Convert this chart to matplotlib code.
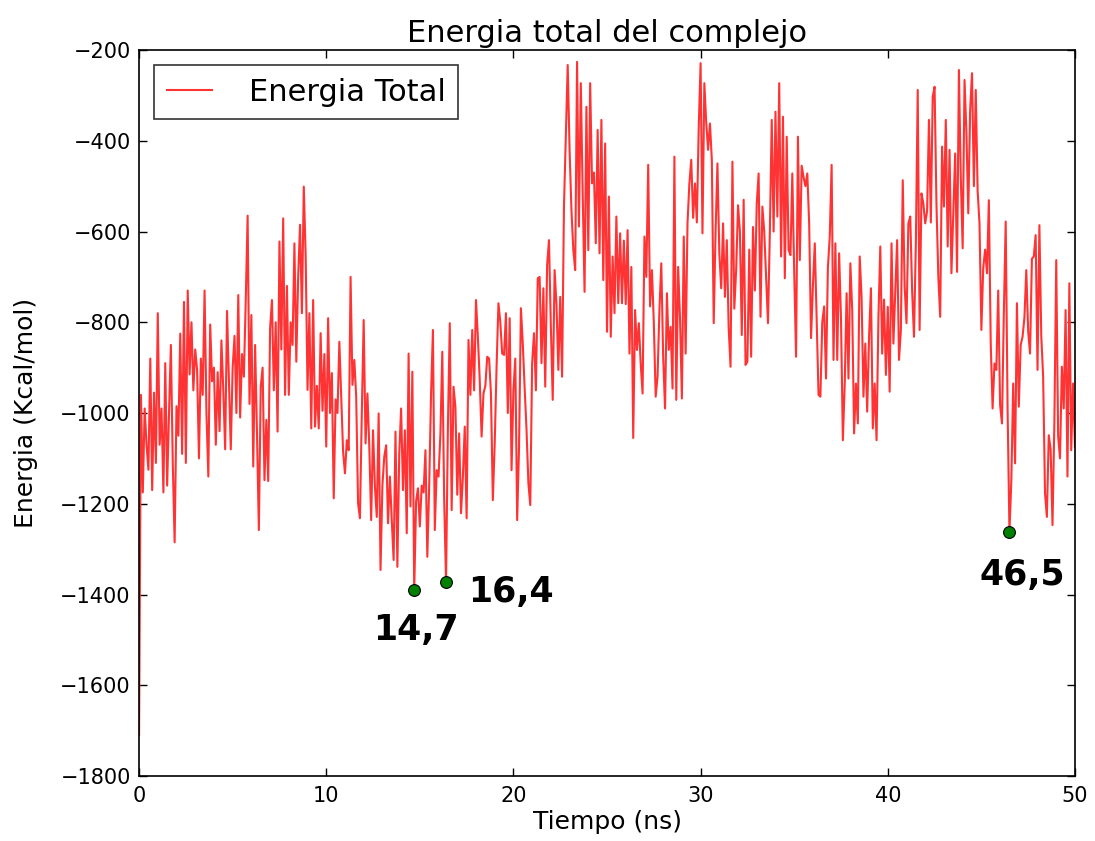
import numpy as np
import matplotlib
matplotlib.use("Agg")
import matplotlib.pyplot as plt

# energia total (Kcal/mol), un valor cada 0.1 ns
e_00_10 = [-1710, -960, -1175, -990, -1070, -1125, -880, -1170, -955, -1110,
           -780, -1070, -990, -1175, -890, -1160, -1000, -850, -1110, -1285,
           -985, -1050, -825, -1090, -755, -1110, -730, -915, -800, -950,
           -860, -905, -1100, -880, -960, -730, -1000, -1140, -805, -930,
           -900, -1070, -910, -1040, -840, -950, -1080, -775, -930, -1080,
           -900, -830, -1000, -740, -1010, -870, -920, -750, -565, -980,
           -784, -1118, -850, -1045, -1258, -942, -900, -1148, -1015, -1150,
           -813, -751, -950, -800, -1041, -622, -860, -571, -960, -720,
           -960, -800, -850, -626, -887, -700, -585, -780, -501, -652,
           -949, -780, -1034, -751, -1030, -940, -1034, -824, -995, -870]
e_10_20 = [-1074, -791, -1000, -912, -1188, -970, -1000, -843, -964, -1085,
           -1133, -1060, -1082, -700, -938, -883, -964, -1199, -1232, -1000,
           -795, -1067, -957, -1074, -1236, -1038, -1162, -1229, -1001, -1346,
           -1160, -1096, -1071, -1243, -1140, -1236, -1324, -1041, -1339, -1090,
           -990, -1170, -1038, -1265, -869, -1206, -909, -1390, -1195, -1166,
           -1250, -1160, -1175, -1082, -1317, -1160, -957, -817, -1258, -1126,
           -1140, -1045, -865, -1190, -1372, -1030, -802, -1214, -942, -986,
           -1180, -1045, -1221, -1140, -1030, -1232, -839, -960, -817, -950,
           -751, -832, -927, -1052, -957, -940, -876, -880, -957, -1192,
           -1067, -898, -758, -800, -869, -872, -780, -1000, -791, -1126]
e_20_30 = [-949, -880, -1236, -1075, -769, -847, -945, -1037, -1155, -1203,
           -890, -824, -950, -703, -700, -890, -725, -942, -674, -619,
           -810, -971, -685, -760, -905, -744, -920, -545, -391, -233,
           -420, -553, -641, -685, -226, -589, -273, -516, -733, -325,
           -641, -273, -494, -470, -626, -376, -648, -354, -707, -406,
           -821, -523, -832, -655, -780, -567, -758, -604, -758, -620,
           -760, -597, -869, -678, -1055, -773, -861, -802, -891, -957,
           -611, -700, -453, -765, -685, -800, -964, -920, -773, -670,
           -876, -990, -736, -861, -810, -946, -435, -971, -678, -790,
           -968, -611, -869, -582, -494, -442, -570, -494, -580, -369]
e_30_40 = [-229, -604, -273, -360, -420, -362, -442, -802, -600, -450,
           -648, -725, -582, -744, -619, -813, -898, -446, -770, -685,
           -542, -600, -828, -530, -894, -887, -640, -876, -590, -730,
           -538, -472, -788, -545, -600, -700, -802, -600, -354, -600,
           -336, -567, -273, -655, -347, -703, -391, -640, -652, -472,
           -689, -876, -391, -663, -455, -480, -500, -472, -582, -835,
           -720, -626, -790, -960, -964, -800, -765, -924, -680, -611,
           -453, -883, -626, -883, -648, -790, -1060, -935, -736, -924,
           -670, -773, -1045, -935, -1023, -655, -744, -964, -847, -997,
           -832, -725, -1034, -935, -1060, -790, -633, -869, -750, -916]
e_40_50 = [-766, -953, -626, -847, -736, -619, -883, -817, -487, -720,
           -802, -582, -567, -730, -832, -625, -288, -817, -516, -538,
           -582, -555, -354, -580, -303, -281, -538, -700, -788, -413,
           -545, -354, -633, -420, -692, -560, -428, -689, -244, -480,
           -637, -266, -380, -560, -332, -251, -500, -288, -510, -582,
           -817, -680, -640, -692, -531, -847, -990, -891, -905, -730,
           -982, -1023, -780, -578, -990, -1262, -1150, -935, -1111, -758,
           -986, -850, -832, -790, -685, -820, -869, -660, -655, -608,
           -905, -586, -830, -920, -1177, -1229, -1049, -1080, -1247, -1020,
           -663, -1050, -1100, -898, -990, -773, -1140, -714, -1082, -935,
           -1075]

energia = np.array(e_00_10 + e_10_20 + e_20_30 + e_30_40 + e_40_50, dtype=float)
tiempo = np.linspace(0, 50, len(energia))

# minimos marcados
t_min = [14.7, 16.4, 46.5]
e_min = [-1390, -1372, -1262]
etiquetas = ["14,7", "16,4", "46,5"]
pos_etiquetas = [(14.8, -1478), (17.57, -1395), (47.2, -1357)]
alineacion = ["center", "left", "center"]

plt.rcParams['font.family'] = ['DejaVu Sans']
plt.rcParams['xtick.direction'] = 'in'
plt.rcParams['ytick.direction'] = 'in'
plt.rcParams['xtick.top'] = True
plt.rcParams['ytick.right'] = True

fig = plt.figure(figsize=(10.95, 8.41), dpi=100)
ax = fig.add_axes([0.127, 0.0773, 0.8547, 0.8632])

ax.plot(tiempo, energia, color='#ff3333', lw=1.5, label='Energia Total')
ax.plot(t_min, e_min, 'o', color='green', mec='black', mew=0.8, ms=8.5, zorder=5)
for lab, (xt, yt), ha in zip(etiquetas, pos_etiquetas, alineacion):
    ax.text(xt, yt, lab, fontsize=25, fontweight='bold', ha=ha, va='center')

ax.set_xlim(0, 50)
ax.set_ylim(-1800, -200)
ax.set_xticks(np.arange(0, 51, 10))
ax.set_yticks(np.arange(-1800, -199, 200))
ax.tick_params(axis='both', which='major', labelsize=15, length=6, width=1)
ax.tick_params(axis='x', pad=7)
ax.tick_params(axis='y', pad=6)
for s in ax.spines.values():
    s.set_linewidth(1.2)

ax.set_title('Energia total del complejo', fontsize=22, pad=6)
ax.set_xlabel('Tiempo (ns)', fontsize=18, labelpad=3)
ax.set_ylabel('Energia (Kcal/mol)', fontsize=18, labelpad=16)

leg = ax.legend(loc='upper left', fontsize=22, fancybox=False, handlelength=1.5,
                handletextpad=1.2, borderpad=0.4, borderaxespad=0.5)
leg.get_frame().set_edgecolor('black')
leg.get_frame().set_linewidth(1.2)

fig.savefig('out.png', dpi=100, facecolor='white')
